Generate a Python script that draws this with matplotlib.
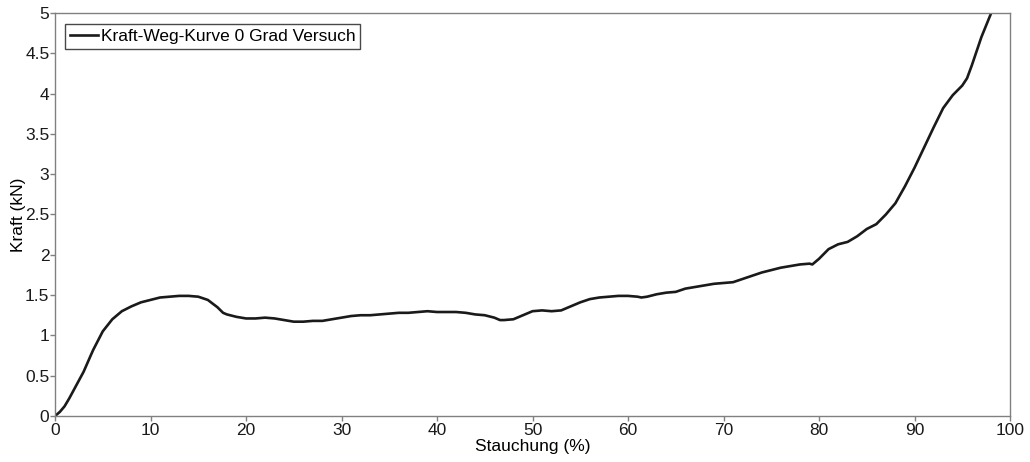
import matplotlib
matplotlib.use("Agg")
import matplotlib.pyplot as plt

plt.rcParams['font.family'] = ['Liberation Sans', 'DejaVu Sans']

stauchung = [0, 0.5, 1, 1.5, 2, 3, 3.7, 4, 5, 6, 7, 8, 9, 10, 11, 12, 13, 14, 15, 16, 17, 17.6, 18, 19, 20,
             21, 22, 23, 24, 25, 26, 27, 28, 29, 30, 31, 32, 33, 34, 35, 36, 37, 38, 39, 40,
             41, 42, 43, 44, 45, 46, 46.6, 47, 48, 49, 50, 51, 52, 53, 54, 55, 56, 57, 58, 59, 60,
             61, 61.4, 62, 63, 64, 65, 66, 67, 68, 69, 70, 71, 72, 73, 74, 75, 76, 77, 78, 79, 79.3,
             80, 81, 82, 83, 84, 85, 86, 87, 88, 89, 90, 91, 92, 93, 94, 95, 95.5, 96, 97, 98.2]
kraft = [0, 0.05, 0.12, 0.22, 0.33, 0.55, 0.74, 0.82, 1.05, 1.2, 1.30, 1.36, 1.41, 1.44, 1.47, 1.48, 1.49, 1.49,
         1.48, 1.44, 1.35, 1.28, 1.26, 1.23, 1.21,
         1.21, 1.22, 1.21, 1.19, 1.17, 1.17, 1.18, 1.18, 1.20, 1.22, 1.24, 1.25, 1.25, 1.26, 1.27, 1.28, 1.28,
         1.29, 1.30, 1.29,
         1.29, 1.29, 1.28, 1.26, 1.25, 1.22, 1.19, 1.19, 1.20, 1.25, 1.30, 1.31, 1.30, 1.31, 1.36, 1.41, 1.45,
         1.47, 1.48, 1.49, 1.49,
         1.48, 1.47, 1.48, 1.51, 1.53, 1.54, 1.58, 1.60, 1.62, 1.64, 1.65, 1.66, 1.70, 1.74, 1.78, 1.81, 1.84,
         1.86, 1.88, 1.89, 1.88,
         1.95, 2.07, 2.13, 2.16, 2.23, 2.32, 2.38, 2.50, 2.64, 2.85, 3.08, 3.33, 3.58, 3.82, 3.98, 4.10, 4.19,
         4.35, 4.70, 5.05]

x_ticks = list(range(0, 101, 10))
y_ticks = [0, 0.5, 1, 1.5, 2, 2.5, 3, 3.5, 4, 4.5, 5]
y_labels = ['0', '0.5', '1', '1.5', '2', '2.5', '3', '3.5', '4', '4.5', '5']

fig = plt.figure(figsize=(10.3, 4.62), dpi=100)
ax = fig.add_axes([0.0534, 0.0996, 0.9272, 0.8723])
ax.plot(stauchung, kraft, color='#1a1a1a', lw=1.9, label='Kraft-Weg-Kurve 0 Grad Versuch')
ax.set_xlim(0, 100)
ax.set_ylim(0, 5)
ax.set_xticks(x_ticks)
ax.set_yticks(y_ticks)
ax.set_yticklabels(y_labels)
for s in ax.spines.values():
    s.set_color('#808080')
    s.set_linewidth(1.0)
ax.tick_params(direction='out', length=3.5, width=1, color='#808080', labelsize=12.5,
               labelcolor='#1a1a1a', pad=0.5)
ax.tick_params(axis='x', pad=1.5)
ax.set_xlabel('Stauchung (%)', fontsize=12.5, labelpad=0.5)
ax.set_ylabel('Kraft (kN)', fontsize=12.5, labelpad=-0.5)
leg = ax.legend(loc='upper left', fontsize=12.5, frameon=True, fancybox=False,
                edgecolor='#1a1a1a', handlelength=1.6, handletextpad=0.15,
                borderpad=0.3, borderaxespad=0, bbox_to_anchor=(0.0105, 0.973))
leg.get_frame().set_linewidth(1.0)
fig.savefig('out.png', dpi=100)
